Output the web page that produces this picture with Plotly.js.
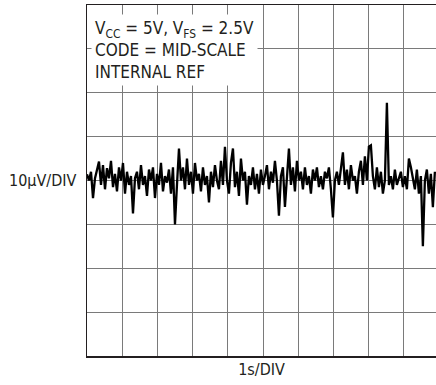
<!DOCTYPE html>
<html>
<head>
<meta charset="utf-8">
<script src="https://cdn.plot.ly/plotly-3.0.1.min.js"></script>
<style>html,body{margin:0;padding:0;background:#fff;overflow:hidden}</style>
</head>
<body>
<div id="chart" style="width:436px;height:385px"></div>
<script>
// time axis: seconds (1 s per division), sample spacing
var timeStart = 0;
var timeStep = 0.0568;
// noise voltage in microvolts (10 µV per division)
var noiseUV = [
 1.4, 0, 2, -4, 0.5, 2.5, 4.3, -1, 3.5, -2,
 2.8, 0.5, 4.5, -1.5, 1.5, -2.5, 3, 0, 4, -3,
 2, -1, 1, -7.5, 0.5, 2, -2, 3.5, -1, 1,
 -3.5, 2.5, 0, 3, -4, 1.5, -1, 4, -2.5, 1,
 -0.5, 2.5, -3, 3, -10, -1, 7.3, 0, 3, -2,
 5, -1, 2, -3, 4, 0, 1.5, -2.5, 3, -1,
 1, -5, 2, -1.5, 3.5, 0, -2, 4.5, -1, 7.7,
 0, -3, 4, 7.3, -1.5, 2, -3.5, 5, 0, 2,
 -5.5, 1, -1, 3, -2, 1.5, -3, 2.5, -1, 1,
 3.5, -2, 2, -0.5, 4.5, 0, -8, 1, 3, -6,
 2, 7.3, -1, 3, -2.5, 4.5, 0, 2, -2, 3,
 -1, 1, -3, 2.5, 0, 3, -1.5, 1, -2, 2,
 0.5, 3, -2, -8.4, 0, 2, -1, 3, 6.4, -1,
 2.5, -2, 3.5, 0, 1, -3, 2, 4.5, -1, 5.5,
 0, 7.7, 8, 1, -2, 3, -1.5, 2, -3, 0,
 17.7, -1, 1, -2, 2.5, -1, 0.5, 2, -1.5, 1,
 -2, 5, 3, 0, -2, 2.5, -3, 1, -15, 0,
 2.5, -3, 1.5, -6.1, 2
];
var xLabel = "1s/DIV";
var yLabel = "10\u03bcV/DIV";
var noteLines = ["V<sub>CC</sub> = 5V, V<sub>FS</sub> = 2.5V", "CODE = MID-SCALE", "INTERNAL REF"];

var FONT = "'Liberation Sans Narrow', 'Arial Narrow', 'DejaVu Sans Condensed', 'Liberation Sans', sans-serif";

var trace = {
  type: 'scatter', mode: 'lines',
  x0: timeStart, dx: timeStep, y: noiseUV,
  line: {color: '#000', width: 2.3},
  hoverinfo: 'skip'
};

var layout = {
  width: 436, height: 385,
  margin: {l: 87, r: 0, t: 5, b: 29, pad: 0},
  paper_bgcolor: '#fff', plot_bgcolor: '#fff',
  showlegend: false,
  font: {family: FONT, size: 16, color: '#231f20'},
  xaxis: {
    range: [0, 9.915], dtick: 1, tick0: 0,
    showgrid: true, gridcolor: '#7a7a7a', gridwidth: 1,
    zeroline: false, showticklabels: false, ticks: '',
    showline: true, linecolor: '#231f20', linewidth: 1.5, mirror: true,
    title: {text: xLabel, font: {family: FONT, size: 16, color: '#231f20'}, standoff: 7}
  },
  yaxis: {
    range: [-40, 40], dtick: 10, tick0: 0,
    showgrid: true, gridcolor: '#7a7a7a', gridwidth: 1,
    zeroline: false, showticklabels: false, ticks: '',
    showline: true, linecolor: '#231f20', linewidth: 1.5, mirror: false
  },
  annotations: [
    {
      xref: 'paper', yref: 'paper', x: -0.025, y: 0.5,
      xanchor: 'right', yanchor: 'middle', showarrow: false,
      text: yLabel, font: {family: FONT, size: 16, color: '#231f20'}
    },
    {
      xref: 'paper', yref: 'paper', x: 0.012, y: 0.975,
      xanchor: 'left', yanchor: 'top', showarrow: false, align: 'left',
      text: noteLines.join('<br>'),
      bgcolor: '#fff', borderpad: 3,
      font: {family: FONT, size: 17, color: '#231f20'}
    }
  ]
};

Plotly.newPlot('chart', [trace], layout, {staticPlot: true, displayModeBar: false});
</script>
</body>
</html>
